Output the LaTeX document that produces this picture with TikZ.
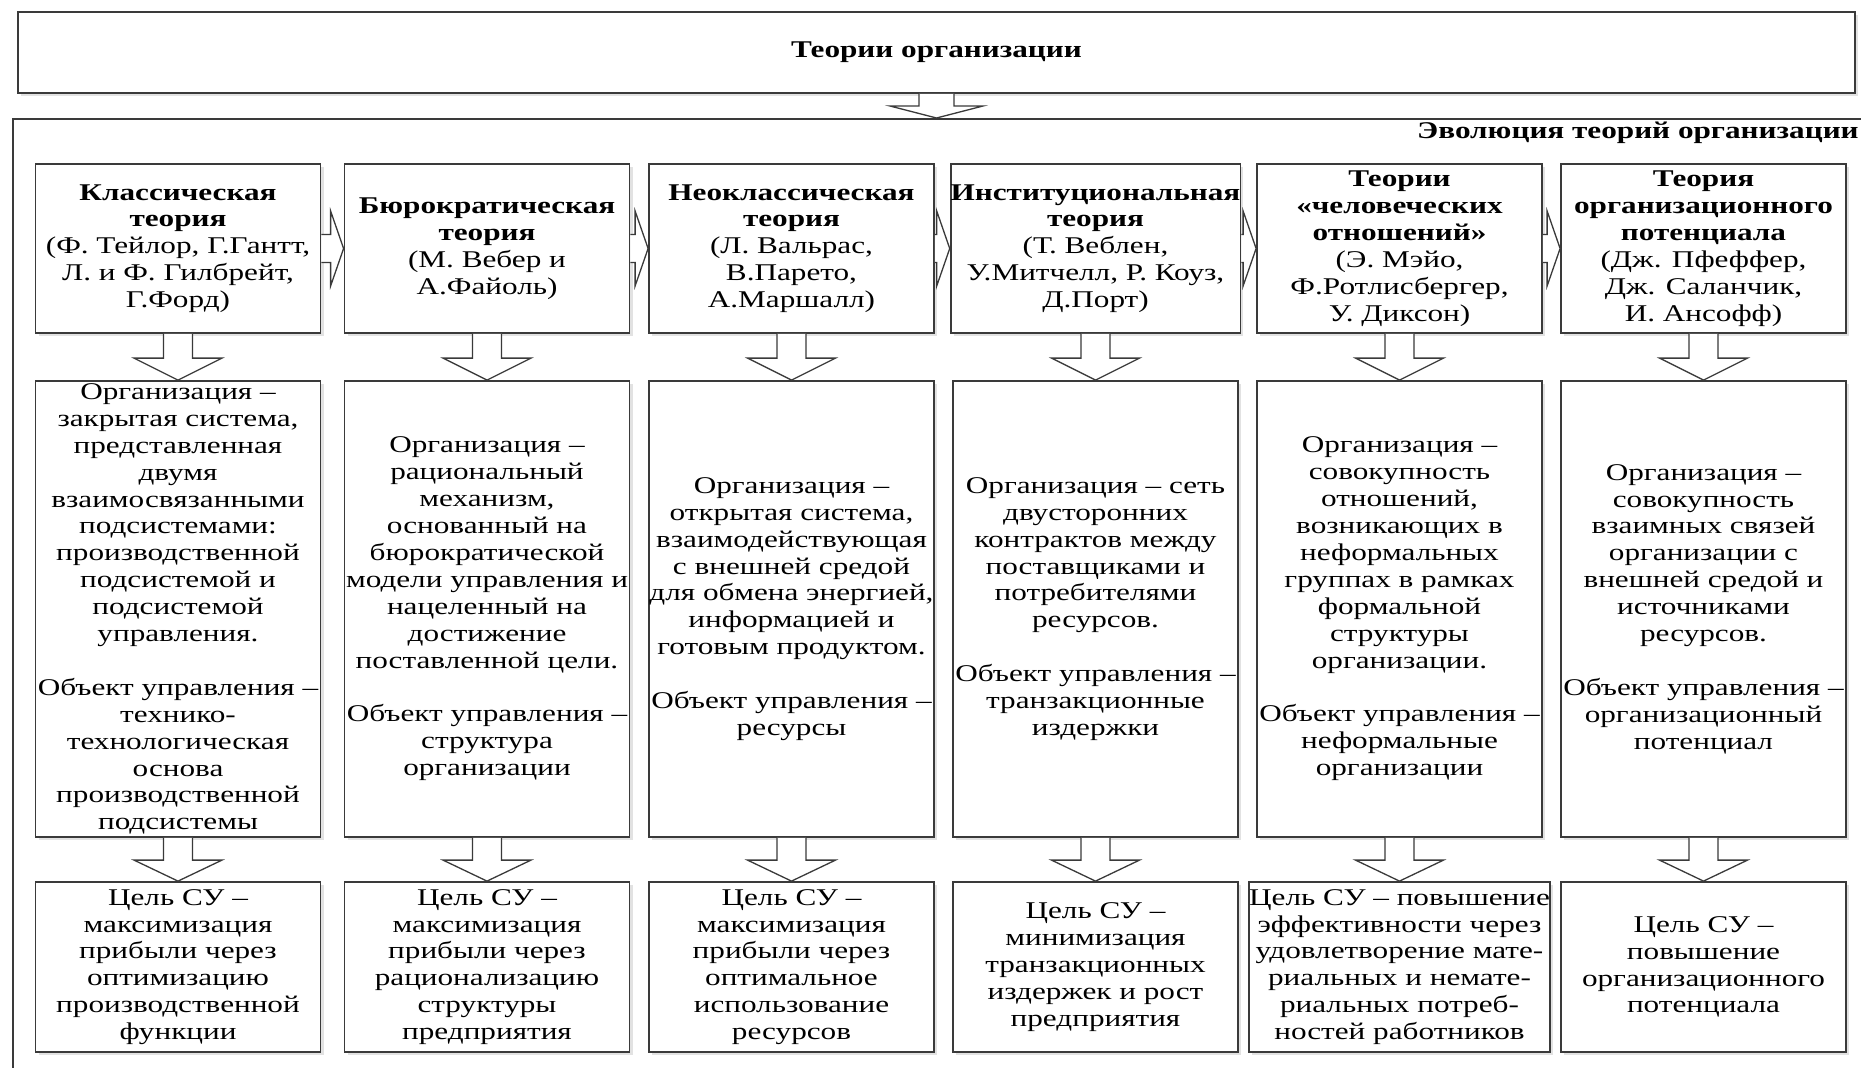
\documentclass[tikz,border=0pt]{standalone}
\usepackage{fontspec}
\setmainfont[FakeStretch=1.3]{Liberation Serif}
\usetikzlibrary{calc,shadows}
\definecolor{edge}{HTML}{3A3A3A}
\tikzset{
  txt/.style={font=\fontsize{24}{26.9}\selectfont, align=center, inner sep=0pt, text=black},
  box/.style={txt, draw=edge, line width=1.8pt, fill=white, minimum width=285pt,
    drop shadow={shadow xshift=3pt, shadow yshift=-3pt, fill=black!22}},
  headbox/.style={box, minimum height=169pt},
  midbox/.style={box, minimum height=456pt},
  goalbox/.style={box, minimum height=170pt},
  blockarrow/.style={draw=edge, line width=1.3pt, fill=white, line join=miter},
}
% vertical block arrow: source, target, stem half-width, head half-width, head length
\newcommand{\vblock}[5]{%
  \draw[blockarrow] let \p1=(#1.south), \p2=(#2.north) in
    (\x1-#3pt,\y1) -- (\x1-#3pt,\y2+#5pt) -- (\x1-#4pt,\y2+#5pt) -- (\x1,\y2)
    -- (\x1+#4pt,\y2+#5pt) -- (\x1+#3pt,\y2+#5pt) -- (\x1+#3pt,\y1);}
% horizontal block arrow between neighbouring header boxes
\newcommand{\hblock}[2]{%
  \draw[blockarrow] let \p1=(#1.east), \p2=(#2.west) in
    (\x1,\y1+14pt) -- (\x2-13pt,\y1+14pt) -- (\x2-13pt,\y1+37.5pt) -- (\x2,\y1)
    -- (\x2-13pt,\y1-37.5pt) -- (\x2-13pt,\y1-14pt) -- (\x1,\y1-14pt);}
\begin{document}
\begin{tikzpicture}[x=1pt,y=-1pt]
\clip (0,0) rectangle (1861,1068);
\fill[white] (0,0) rectangle (1861,1068);

% top box and the enclosing frame
\node[box, minimum width=1837pt, minimum height=81pt] (theory) at (936.5,52.5) {\textbf{Теории организации}};
\node[draw=edge, line width=1.8pt, anchor=north west, minimum width=1900pt, minimum height=1000pt, inner sep=0pt] (evo) at (12,118) {};
\node[txt, anchor=east] (evotitle) at (1859,133) {\textbf{Эволюция теорий организации}};

% header row
\node[headbox] (h1) at (178,248.5) {\textbf{Классическая}\\\textbf{теория}\\(Ф. Тейлор, Г.Гантт,\\Л. и Ф. Гилбрейт,\\Г.Форд)};
\node[headbox] (h2) at (487,248.5) {\textbf{Бюрократическая}\\\textbf{теория}\\(М. Вебер и\\А.Файоль)};
\node[headbox] (h3) at (791.5,248.5) {\textbf{Неоклассическая}\\\textbf{теория}\\(Л. Вальрас,\\В.Парето,\\А.Маршалл)};
\node[headbox] (h4) at (1095.5,248.5) {\textbf{Институциональная}\\\textbf{теория}\\(Т. Веблен,\\У.Митчелл, Р. Коуз,\\Д.Порт)};
\node[headbox] (h5) at (1399.5,248.5) {\textbf{Теории}\\\textbf{«человеческих}\\\textbf{отношений»}\\(Э. Мэйо,\\Ф.Ротлисбергер,\\У. Диксон)};
\node[headbox] (h6) at (1703.5,248.5) {\textbf{Теория}\\\textbf{организационного}\\\textbf{потенциала}\\(Дж. Пфеффер,\\Дж. Саланчик,\\И. Ансофф)};

% description row
\node[midbox] (m1) at (178,609) {Организация –\\закрытая система,\\представленная\\двумя\\взаимосвязанными\\подсистемами:\\производственной\\подсистемой и\\подсистемой\\управления.\\[26.9pt]Объект управления –\\технико-\\технологическая\\основа\\производственной\\подсистемы};
\node[midbox] (m2) at (487,609) {Организация –\\рациональный\\механизм,\\основанный на\\бюрократической\\модели управления и\\нацеленный на\\достижение\\поставленной цели.\\[26.9pt]Объект управления –\\структура\\организации};
\node[midbox] (m3) at (791.5,609) {Организация –\\открытая система,\\взаимодействующая\\с внешней средой\\для обмена энергией,\\информацией и\\готовым продуктом.\\[26.9pt]Объект управления –\\ресурсы};
\node[midbox] (m4) at (1095.5,609) {Организация – сеть\\двусторонних\\контрактов между\\поставщиками и\\потребителями\\ресурсов.\\[26.9pt]Объект управления –\\транзакционные\\издержки};
\node[midbox] (m5) at (1399.5,609) {Организация –\\совокупность\\отношений,\\возникающих в\\неформальных\\группах в рамках\\формальной\\структуры\\организации.\\[26.9pt]Объект управления –\\неформальные\\организации};
\node[midbox] (m6) at (1703.5,609) {Организация –\\совокупность\\взаимных связей\\организации с\\внешней средой и\\источниками\\ресурсов.\\[26.9pt]Объект управления –\\организационный\\потенциал};

% goal row
\node[goalbox] (g1) at (178,967) {Цель СУ –\\максимизация\\прибыли через\\оптимизацию\\производственной\\функции};
\node[goalbox] (g2) at (487,967) {Цель СУ –\\максимизация\\прибыли через\\рационализацию\\структуры\\предприятия};
\node[goalbox] (g3) at (791.5,967) {Цель СУ –\\максимизация\\прибыли через\\оптимальное\\использование\\ресурсов};
\node[goalbox] (g4) at (1095.5,967) {Цель СУ –\\минимизация\\транзакционных\\издержек и рост\\предприятия};
\node[goalbox] (g5) at (1399.5,967) {Цель СУ – повышение\\эффективности через\\удовлетворение мате-\\риальных и немате-\\риальных потреб-\\ностей работников};
\node[goalbox] (g6) at (1703.5,967) {Цель СУ –\\повышение\\организационного\\потенциала};

% block arrows
\vblock{theory}{evo}{17.5}{46.5}{12}
\foreach \i in {1,...,6}{
  \vblock{h\i}{m\i}{14.5}{44}{22}
  \vblock{m\i}{g\i}{14.5}{44}{21}
}
\hblock{h1}{h2}
\hblock{h2}{h3}
\hblock{h3}{h4}
\hblock{h4}{h5}
\hblock{h5}{h6}
\end{tikzpicture}
\end{document}
